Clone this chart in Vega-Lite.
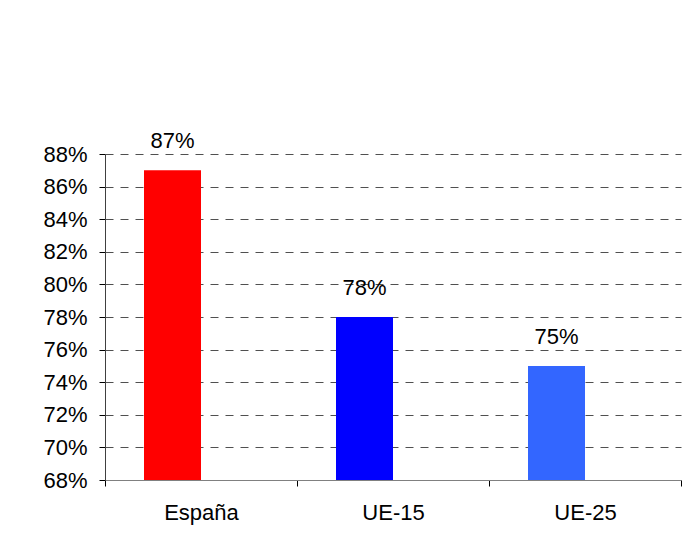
{
  "$schema": "https://vega.github.io/schema/vega-lite/v6.json",
  "width": 576,
  "height": 326,
  "autosize": {"type": "none"},
  "padding": {"left": 105, "top": 154, "right": 19, "bottom": 54},
  "background": "white",
  "config": {
    "view": {"stroke": null},
    "font": "Liberation Sans",
    "axis": {"labelFont": "Liberation Sans", "labelFontSize": 22, "labelColor": "black", "labelOverlap": false, "labelBound": false, "labelFlush": false}
  },
  "data": {
    "values": [
      {"region": "España", "value": 0.87},
      {"region": "UE-15", "value": 0.78},
      {"region": "UE-25", "value": 0.75}
    ]
  },
  "encoding": {
    "x": {
      "field": "region",
      "type": "nominal",
      "sort": null,
      "scale": {"paddingInner": 0, "paddingOuter": 0},
      "axis": {
        "title": null,
        "labelAngle": 0,
        "tickBand": "extent",
        "tickSize": 6,
        "tickColor": "black",
        "domainColor": "#808080",
        "labelPadding": 16,
        "grid": false
      }
    }
  },
  "layer": [
    {
      "mark": {"type": "bar", "width": 57, "xOffset": -28.5},
      "encoding": {
        "y": {
          "field": "value",
          "type": "quantitative",
          "scale": {"domain": [0.68, 0.88], "zero": false, "nice": false},
          "axis": {
            "title": null,
            "values": [0.68, 0.70, 0.72, 0.74, 0.76, 0.78, 0.80, 0.82, 0.84, 0.86, 0.88],
            "tickCount": 30,
            "format": ".0%",
            "tickSize": 6,
            "tickColor": "black",
            "domainColor": "#404040",
            "labelPadding": 12,
            "labelOverlap": false,
            "grid": true,
            "gridColor": "#505050",
            "gridDash": [8, 7],
            "gridWidth": 1
          }
        },
        "y2": {"datum": 0.68},
        "color": {
          "field": "region",
          "type": "nominal",
          "scale": {"domain": ["España", "UE-15", "UE-25"], "range": ["#ff0000", "#0000ff", "#3366ff"]},
          "legend": null
        }
      }
    },
    {
      "mark": {"type": "text", "xOffset": -28.5, "dy": -22, "baseline": "alphabetic", "fontSize": 22, "font": "Liberation Sans", "color": "black"},
      "encoding": {
        "y": {"field": "value", "type": "quantitative"},
        "text": {"field": "value", "type": "quantitative", "format": ".0%"}
      }
    }
  ]
}
